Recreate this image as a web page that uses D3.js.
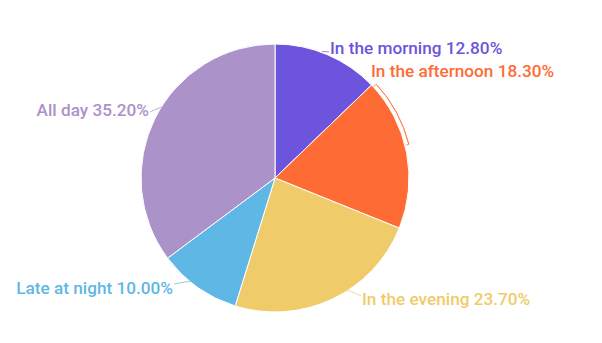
<!DOCTYPE html>
<html>
<head>
<meta charset="utf-8">
<script src="https://cdn.jsdelivr.net/npm/d3@7"></script>
<style>
  body { margin: 0; background: #fff; }
  text { font-family: Roboto, "Noto Sans", sans-serif; }
</style>
</head>
<body>
<svg id="drawing_region"></svg>
<script>
// chart data
const categories = ['In the morning', 'In the afternoon', 'In the evening', 'Late at night', 'All day'];
const values = [12.8, 18.3, 23.7, 10.0, 35.2];
const colors = ['#6c54dc', '#ff6b35', '#f0cb69', '#5fb7e5', '#ab92c9'];

// label text positions and anchors
const labelPos = [[330, 48], [371, 71], [362, 299], [173, 288], [149, 110]];
const labelAnchor = ['start', 'start', 'start', 'end', 'end'];

const width = 602, height = 343;
const cx = 275, cy = 178, radius = 134;

const svg = d3.select('#drawing_region')
    .attr('width', width)
    .attr('height', height);

const g = svg.append('g')
    .attr('transform', `translate(${cx}, ${cy})`);

const data = categories.map((c, i) => ({name: c, value: values[i], color: colors[i]}));

const pie = d3.pie()
    .sort(null)
    .value(d => d.value);

const arcs = pie(data);

const arc = d3.arc()
    .innerRadius(0)
    .outerRadius(radius);

g.selectAll('path.slice')
    .data(arcs)
    .join('path')
    .attr('class', 'slice')
    .attr('d', arc)
    .attr('fill', d => d.data.color)
    .attr('stroke', '#fff')
    .attr('stroke-width', 1);

// leader lines
const pointAt = (a, r) => [Math.sin(a) * r, -Math.cos(a) * r];

function leader(pts, color) {
    g.append('path')
        .attr('d', d3.line()(pts))
        .attr('fill', 'none')
        .attr('stroke', color)
        .attr('stroke-opacity', 0.7)
        .attr('stroke-width', 1);
}

arcs.forEach((d, i) => {
    const [lx, ly] = [labelPos[i][0] - cx, labelPos[i][1] - cy];
    const c = d.data.color;
    if (i === 0) {
        leader([pointAt(d.endAngle - 0.45, radius + 1), [lx - 1, ly + 4]], c);
    } else if (i === 1) {
        // line that hugs the outer edge of the slice
        const a0 = d.startAngle + 0.02, a1 = d.startAngle + 0.52;
        const outer = d3.arc()
            .innerRadius(radius + 4)
            .outerRadius(radius + 4)
            .startAngle(a0)
            .endAngle(a1);
        g.append('path')
            .attr('d', outer())
            .attr('fill', 'none')
            .attr('stroke', c)
            .attr('stroke-opacity', 0.7)
            .attr('stroke-width', 1);
        leader([pointAt(a0, radius), pointAt(a0, radius + 4)], c);
        leader([pointAt(a1, radius + 1), pointAt(a1, radius + 4)], c);
    } else if (i === 2) {
        leader([pointAt(d.startAngle + 0.62, radius - 1), [lx - 12, ly - 8], [lx - 1, ly - 3]], c);
    } else if (i === 3) {
        leader([pointAt(d.startAngle + 0.38, radius - 1), [lx + 12, ly - 6], [lx + 1, ly - 4]], c);
    } else {
        leader([[lx + 1, ly + 2], pointAt(d.startAngle + 1.2, radius)], c);
    }
});

// labels
svg.selectAll('text.label')
    .data(arcs)
    .join('text')
    .attr('class', 'label')
    .attr('x', (d, i) => labelPos[i][0])
    .attr('y', (d, i) => labelPos[i][1])
    .attr('dy', '0.35em')
    .attr('text-anchor', (d, i) => labelAnchor[i])
    .attr('fill', d => d.data.color)
    .attr('font-size', 17.2)
    .attr('font-weight', 500)
    .text(d => `${d.data.name} ${d.data.value.toFixed(2)}%`);
</script>
</body>
</html>
